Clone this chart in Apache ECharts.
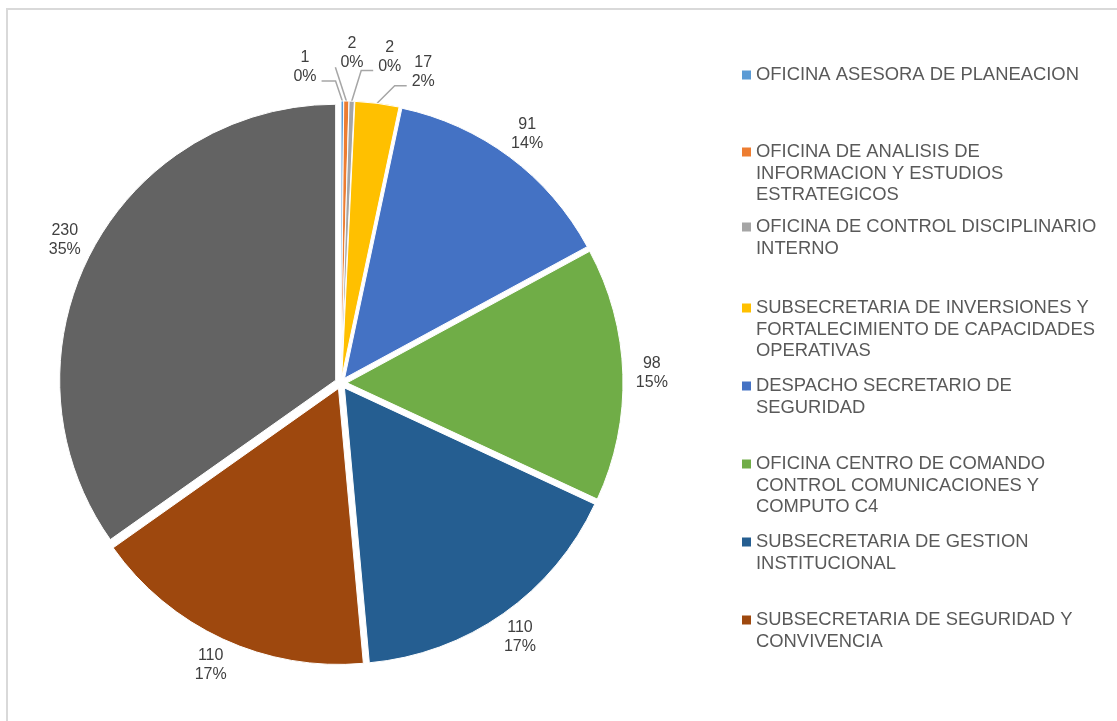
<!DOCTYPE html>
<html>
<head>
<meta charset="utf-8">
<script src="https://cdn.jsdelivr.net/npm/echarts@6/dist/echarts.min.js"></script>
<style>
  html, body { margin: 0; padding: 0; background: #fff; }
  #chart { width: 1117px; height: 721px; }
</style>
</head>
<body>
<div id="chart"></div>
<script>
// datos
var names = [
    'OFICINA ASESORA DE PLANEACION',
    'OFICINA DE ANALISIS DE INFORMACION Y ESTUDIOS ESTRATEGICOS',
    'OFICINA DE CONTROL DISCIPLINARIO INTERNO',
    'SUBSECRETARIA DE INVERSIONES Y FORTALECIMIENTO DE CAPACIDADES OPERATIVAS',
    'DESPACHO SECRETARIO DE SEGURIDAD',
    'OFICINA CENTRO DE COMANDO CONTROL COMUNICACIONES Y COMPUTO C4',
    'SUBSECRETARIA DE GESTION INSTITUCIONAL',
    'SUBSECRETARIA DE SEGURIDAD Y CONVIVENCIA',
    '' // la leyenda original no muestra el noveno nombre
];
var values = [1, 2, 2, 17, 91, 98, 110, 110, 230];
var colors = ['#5B9BD5', '#ED7D31', '#A5A5A5', '#FFC000', '#4472C4',
    '#70AD47', '#255E91', '#9E480E', '#636363'];

// geometria
var CX = 341, CY = 383, R = 276, OFF = 6, LABEL_R = 311;
// etiquetas pequeñas desplazadas (angulo en grados, radio)
var smallLabelPlace = {0: [-6.5, 318], 1: [1.9, 330], 2: [8.5, 330], 3: [14.8, 322]};
var legendCenters = [75, 152, 227, 308, 386, 464, 542, 620];
var LEG_FONT = 18.4, LEG_LH = 21.7;

var total = values.reduce(function (a, b) { return a + b; }, 0);
var midAngle = [];
var acc = 0;
values.forEach(function (v) {
    midAngle.push((acc + v / 2) / total * Math.PI * 2);
    acc += v;
});

// partir texto de la leyenda en lineas
var ctx = document.createElement('canvas').getContext('2d');
ctx.font = LEG_FONT + 'px "Liberation Sans"';
function wrap(text, maxW) {
    var words = text.split(' '), lines = [], cur = '';
    words.forEach(function (w) {
        var t = cur ? cur + ' ' + w : w;
        if (ctx.measureText(t).width > maxW && cur) {
            lines.push(cur);
            cur = w;
        } else {
            cur = t;
        }
    });
    lines.push(cur);
    return lines;
}

var legends = [];
names.forEach(function (n, i) {
    if (!n) return;
    var lines = wrap(n, 352);
    var blank = [];
    for (var k = 1; k < lines.length; k++) blank.push('');
    var txt = blank.concat(lines).join('\n');
    var totalH = (2 * lines.length - 1) * LEG_LH;
    legends.push({
        data: [n],
        orient: 'vertical',
        left: 742,
        top: legendCenters[i] - totalH / 2,
        padding: 0,
        icon: 'rect',
        itemWidth: 9,
        itemHeight: 9,
        itemGap: 5,
        itemStyle: {borderWidth: 0},
        selectedMode: false,
        formatter: function () { return txt; },
        textStyle: {
            color: '#595959',
            fontSize: LEG_FONT,
            lineHeight: LEG_LH,
            fontFamily: 'Liberation Sans'
        }
    });
});

var myChart = echarts.init(document.getElementById('chart'));
var option = {
    backgroundColor: '#fff',
    animation: false,
    color: colors,
    legend: legends,
    graphic: [{
        type: 'rect',
        silent: true,
        shape: {x: 7, y: 9, width: 1200, height: 800},
        style: {fill: 'none', stroke: '#d9d9d9', lineWidth: 2}
    }],
    series: [{
        // sectores separados (todos seleccionados)
        type: 'pie',
        center: [CX, CY],
        radius: R,
        startAngle: 90,
        clockwise: true,
        selectedMode: 'multiple',
        selectedOffset: OFF,
        itemStyle: {borderColor: '#fff', borderWidth: 1},
        emphasis: {scale: false},
        label: {show: false},
        labelLine: {show: false},
        data: values.map(function (v, i) {
            return {name: names[i], value: v, selected: true};
        })
    }, {
        // solo etiquetas
        type: 'pie',
        center: [CX, CY],
        radius: R + OFF,
        startAngle: 90,
        clockwise: true,
        silent: true,
        legendHoverLink: false,
        percentPrecision: 0,
        avoidLabelOverlap: false,
        itemStyle: {color: 'rgba(0,0,0,0)', borderWidth: 0},
        emphasis: {disabled: true},
        label: {
            show: true,
            position: 'outside',
            formatter: '{c}\n{d}%',
            color: '#404040',
            fontSize: 16,
            lineHeight: 19,
            align: 'center',
            fontFamily: 'Liberation Sans'
        },
        labelLine: {
            show: true,
            length: 10,
            length2: 10,
            lineStyle: {color: '#a6a6a6', width: 1.5}
        },
        labelLayout: function (p) {
            var i = p.dataIndex;
            var a = midAngle[i];
            var place = smallLabelPlace[i];
            var ang = place ? place[0] * Math.PI / 180 : a;
            var rad = place ? place[1] : LABEL_R;
            var x = CX + rad * Math.sin(ang), y = CY - rad * Math.cos(ang);
            var out = {x: x, y: y, align: 'center', verticalAlign: 'middle'};
            if (place) {
                var hw = p.labelRect.width / 2 + 5;
                var e = [CX + (R + OFF) * Math.sin(a), CY - (R + OFF) * Math.cos(a)];
                var p1, p2;
                if (Math.abs(x - e[0]) < 15) {
                    p2 = [x - hw, y + 14];
                    p1 = p2;
                } else if (x < e[0]) {
                    p2 = [x + hw, y + 14];
                    p1 = [p2[0] + 14, p2[1]];
                } else {
                    p2 = [x - hw, y + 14];
                    p1 = [p2[0] - 12, p2[1]];
                }
                out.labelLinePoints = [e, p1, p2];
            }
            return out;
        },
        data: values.map(function (v, i) {
            return {
                name: names[i],
                value: v,
                labelLine: {show: i < 4}
            };
        })
    }]
};
myChart.setOption(option);
</script>
</body>
</html>
